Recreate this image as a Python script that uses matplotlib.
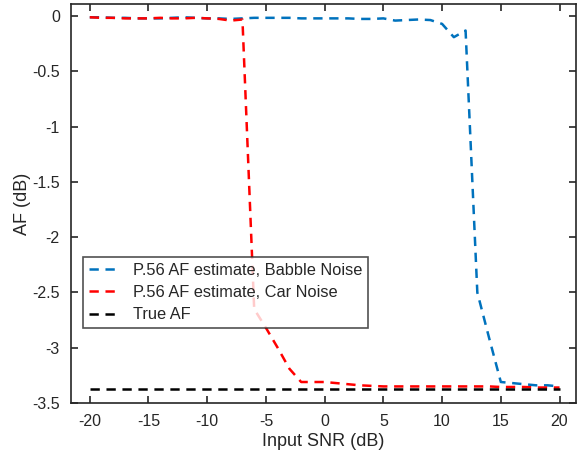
import numpy             as np
import matplotlib
matplotlib.use('Agg')
import matplotlib.pyplot as plt

# Data
snr = list(range(-20, 21))

af_babble = [-0.01, -0.01, -0.015, -0.015, -0.02, -0.02, -0.02, -0.015, -0.01, -0.015,
             -0.02, -0.02, -0.025, -0.02, -0.015, -0.015, -0.015, -0.015, -0.02, -0.02,
             -0.02, -0.02, -0.02, -0.025, -0.025, -0.02, -0.04, -0.035, -0.03, -0.035,
             -0.07, -0.19, -0.13, -2.50, -2.91, -3.31, -3.32, -3.33, -3.34, -3.34,
             -3.35]
af_car    = [-0.01, -0.015, -0.015, -0.02, -0.02, -0.02, -0.015, -0.02, -0.02, -0.015,
             -0.02, -0.025, -0.04, -0.03, -2.65, -2.82, -3.00, -3.19, -3.31, -3.31,
             -3.31, -3.32, -3.33, -3.34, -3.345, -3.35, -3.35, -3.35, -3.35, -3.35,
             -3.35, -3.35, -3.35, -3.35, -3.35, -3.355, -3.355, -3.355, -3.36, -3.36,
             -3.36]
af_true   = [-3.37] * len(snr)

labels = ['P.56 AF estimate, Babble Noise',
          'P.56 AF estimate, Car Noise',
          'True AF']

# Style
plt.rcParams['font.family']        = ['Liberation Sans', 'DejaVu Sans']
plt.rcParams['lines.scale_dashes'] = False
axis_grey = '#262626'
dash      = (6.7, 4.8)

fig = plt.figure(figsize=(5.78, 4.61), dpi=100)
ax  = fig.add_axes([0.1228, 0.1258, 0.8737, 0.8655])

ax.plot(snr, af_babble, '--', color='#0072BD', lw=1.8, dashes=dash, label=labels[0])
ax.plot(snr, af_car,    '--', color='#FF0000', lw=1.8, dashes=dash, label=labels[1])
ax.plot(snr, af_true,   '--', color='#000000', lw=1.8, dashes=dash, label=labels[2])

ax.set_xlim(-21.6, 21.4)
ax.set_ylim(-3.49, 0.11)
ax.set_xticks(np.arange(-20, 21, 5))
ax.set_yticks(np.arange(-3.5, 0.01, 0.5))
ax.set_yticklabels(['-3.5', '-3', '-2.5', '-2', '-1.5', '-1', '-0.5', '0'])
ax.set_xticklabels([str(v) for v in range(-20, 21, 5)])

ax.tick_params(direction='in', top=True, right=True, length=5, width=1.2,
               colors=axis_grey, labelsize=11.5, labelcolor=axis_grey, pad=8)
for side in ax.spines.values():
    side.set_linewidth(1.2)
    side.set_color(axis_grey)

ax.set_xlabel('Input SNR (dB)', fontsize=13, color=axis_grey, labelpad=3)
ax.set_ylabel('AF (dB)',        fontsize=13, color=axis_grey, labelpad=1)

leg = ax.legend(loc='lower left', bbox_to_anchor=(0.024, 0.188), borderaxespad=0,
                fancybox=False, edgecolor=axis_grey, fontsize=11.8,
                handlelength=1.6, labelspacing=0.45, borderpad=0.35, handletextpad=1.1)
leg.get_frame().set_linewidth(1.2)
for text in leg.get_texts():
    text.set_color(axis_grey)

fig.savefig('out.png', dpi=100)
